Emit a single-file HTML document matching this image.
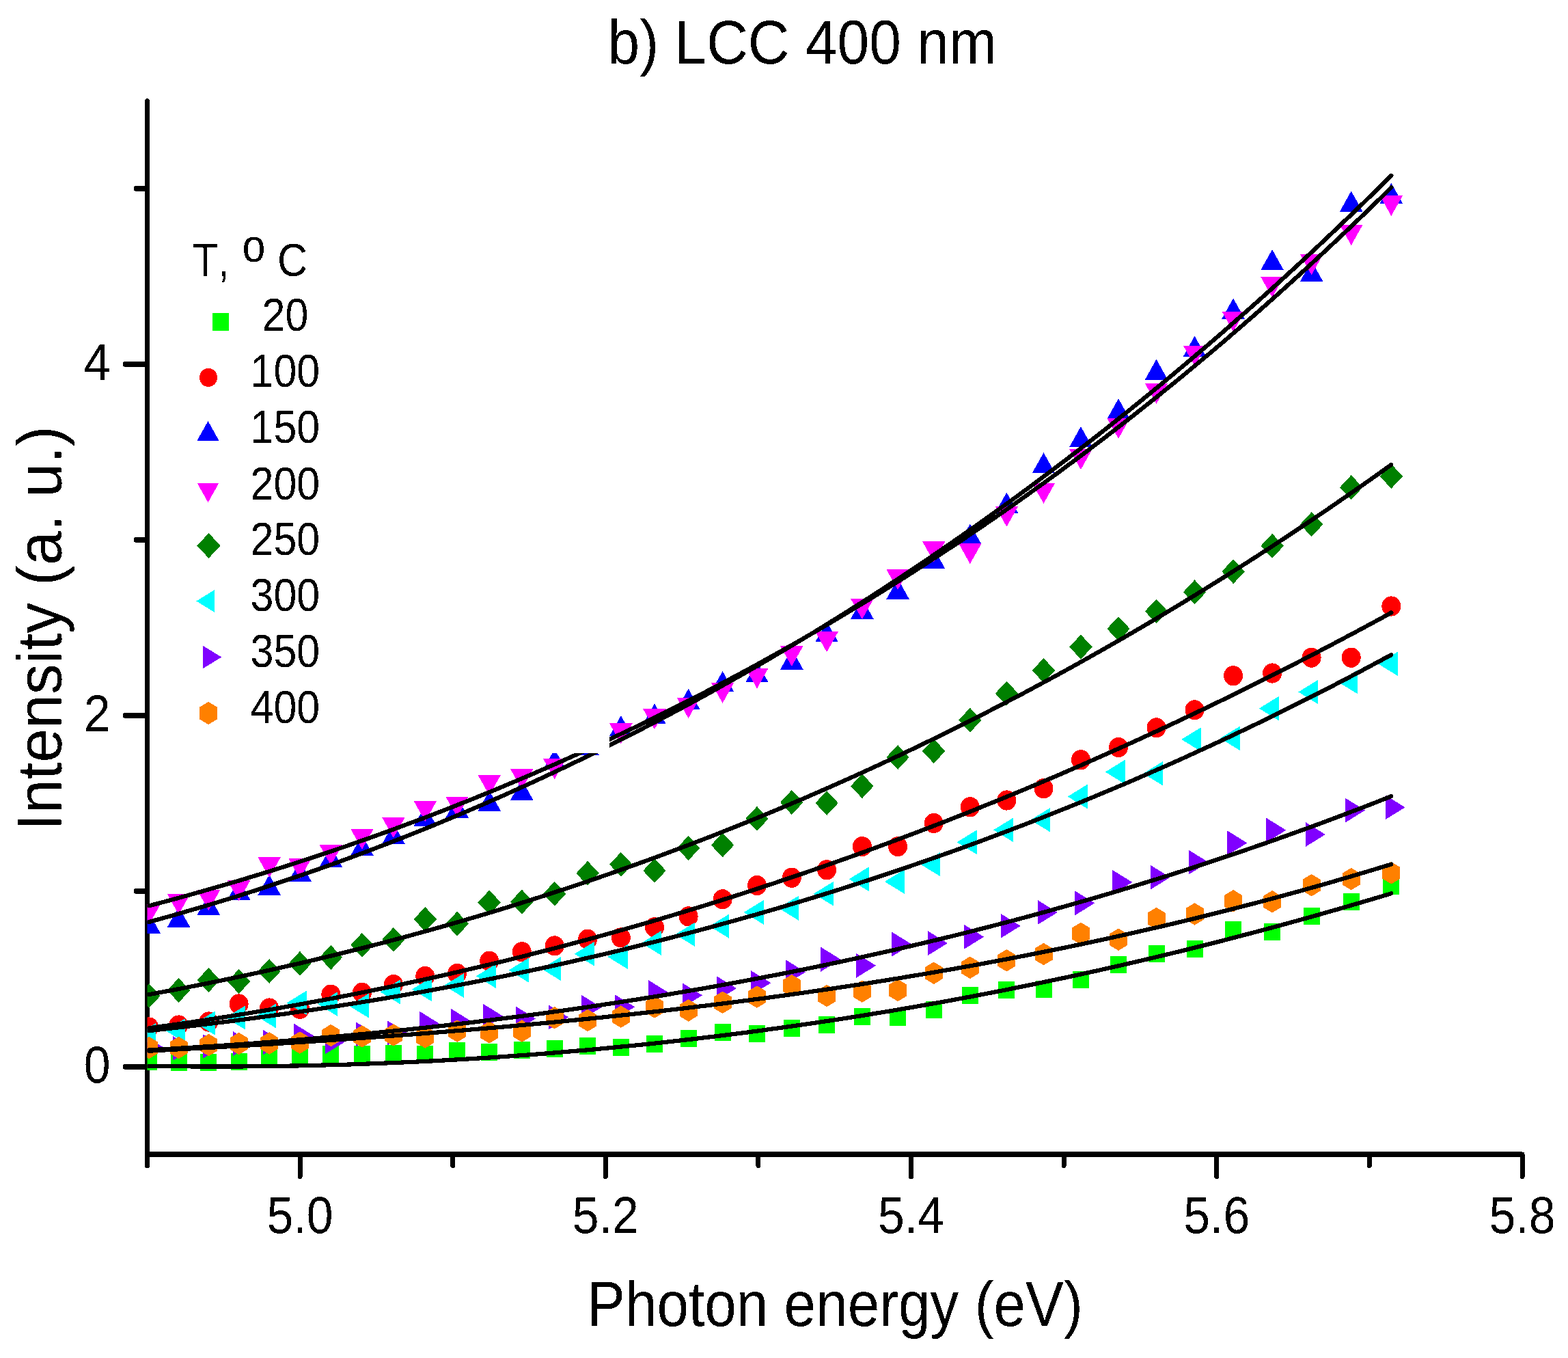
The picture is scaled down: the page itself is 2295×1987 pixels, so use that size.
<!DOCTYPE html>
<html><head><meta charset="utf-8"><title>b) LCC 400 nm</title>
<style>html,body{margin:0;padding:0;background:#fff;overflow:hidden}svg{display:block}text{font-family:"Liberation Sans",Arial,sans-serif;fill:#000;font-kerning:none}</style></head><body>
<svg width="2295" height="1987" viewBox="0 0 2295 1987" shape-rendering="crispEdges">
<rect x="0" y="0" width="2295" height="1987" fill="#fff"/>
<defs><clipPath id="pc"><rect x="215.5" y="140" width="2015" height="1549"/></clipPath><filter id="crisp" x="0" y="0" width="2295" height="1987" filterUnits="userSpaceOnUse"><feComponentTransfer><feFuncA type="discrete" tableValues="0 1"/></feComponentTransfer></filter></defs>
<g stroke="#000" stroke-width="7" stroke-linecap="round" fill="none">
<path d="M215.5 147.5V1705.5"/>
<path d="M215.5 1689H2228" stroke-linecap="butt" stroke-width="7.7"/>
<path d="M2228 1689V1721.5"/>
<path d="M439 1689V1721.5"/>
<path d="M662.7 1689V1705.5"/>
<path d="M886.3 1689V1721.5"/>
<path d="M1109.9 1689V1705.5"/>
<path d="M1333.5 1689V1721.5"/>
<path d="M1557.1 1689V1705.5"/>
<path d="M1780.8 1689V1721.5"/>
<path d="M2004.4 1689V1705.5"/>
<path d="M215.5 1561H183.5" stroke-width="7.8"/>
<path d="M215.5 1304H199.5" stroke-width="7.8"/>
<path d="M215.5 1047H183.5" stroke-width="7.8"/>
<path d="M215.5 790H199.5" stroke-width="7.8"/>
<path d="M215.5 533H183.5" stroke-width="7.8"/>
<path d="M215.5 276H199.5" stroke-width="7.8"/>
</g>
<g clip-path="url(#pc)">
<g fill="#00ff00"><rect x="206.1" y="1540.5" width="24" height="25"/><rect x="249.5" y="1541.5" width="24" height="25"/><rect x="293.4" y="1541.5" width="24" height="25"/><rect x="337.6" y="1540.5" width="24" height="25"/><rect x="382.1" y="1532.5" width="24" height="25"/><rect x="427" y="1531.7" width="24" height="25"/><rect x="472.3" y="1530.3" width="24" height="25"/><rect x="517.9" y="1529.6" width="24" height="25"/><rect x="563.9" y="1528.5" width="24" height="25"/><rect x="610.3" y="1529.5" width="24" height="25"/><rect x="657.1" y="1525.2" width="24" height="25"/><rect x="704.2" y="1526.9" width="24" height="25"/><rect x="751.8" y="1524.2" width="24" height="25"/><rect x="799.7" y="1521.5" width="24" height="25"/><rect x="848.1" y="1518.3" width="24" height="25"/><rect x="896.8" y="1519.6" width="24" height="25"/><rect x="946" y="1515.1" width="24" height="25"/><rect x="995.6" y="1507.4" width="24" height="25"/><rect x="1045.6" y="1497.5" width="24" height="25"/><rect x="1096" y="1499.5" width="24" height="25"/><rect x="1146.8" y="1491.7" width="24" height="25"/><rect x="1198.1" y="1487.2" width="24" height="25"/><rect x="1249.9" y="1475.2" width="24" height="25"/><rect x="1302.1" y="1476" width="24" height="25"/><rect x="1354.7" y="1464.5" width="24" height="25"/><rect x="1407.8" y="1444.2" width="24" height="25"/><rect x="1461.4" y="1436.3" width="24" height="25"/><rect x="1515.5" y="1434.5" width="24" height="25"/><rect x="1570" y="1420.5" width="24" height="25"/><rect x="1625" y="1399.4" width="24" height="25"/><rect x="1680.5" y="1383.3" width="24" height="25"/><rect x="1736.5" y="1376.3" width="24" height="25"/><rect x="1793.1" y="1348.3" width="24" height="25"/><rect x="1850.1" y="1350.9" width="24" height="25"/><rect x="1907.6" y="1328" width="24" height="25"/><rect x="1965.7" y="1307.2" width="24" height="25"/><rect x="2024.3" y="1283.5" width="24" height="25"/></g>
<g fill="#ff0000"><ellipse cx="218.1" cy="1503" rx="14" ry="14.6"/><ellipse cx="261.5" cy="1500" rx="14" ry="14.6"/><ellipse cx="305.4" cy="1495" rx="14" ry="14.6"/><ellipse cx="349.6" cy="1469" rx="14" ry="14.6"/><ellipse cx="394.1" cy="1475" rx="14" ry="14.6"/><ellipse cx="439" cy="1476.2" rx="14" ry="14.6"/><ellipse cx="484.3" cy="1455.1" rx="14" ry="14.6"/><ellipse cx="529.9" cy="1452.3" rx="14" ry="14.6"/><ellipse cx="575.9" cy="1440.5" rx="14" ry="14.6"/><ellipse cx="622.3" cy="1428.5" rx="14" ry="14.6"/><ellipse cx="669.1" cy="1424.4" rx="14" ry="14.6"/><ellipse cx="716.2" cy="1406.2" rx="14" ry="14.6"/><ellipse cx="763.8" cy="1392.7" rx="14" ry="14.6"/><ellipse cx="811.7" cy="1383.9" rx="14" ry="14.6"/><ellipse cx="860.1" cy="1374.2" rx="14" ry="14.6"/><ellipse cx="908.8" cy="1371.9" rx="14" ry="14.6"/><ellipse cx="958" cy="1356.8" rx="14" ry="14.6"/><ellipse cx="1007.6" cy="1340.9" rx="14" ry="14.6"/><ellipse cx="1057.6" cy="1315.8" rx="14" ry="14.6"/><ellipse cx="1108" cy="1295.5" rx="14" ry="14.6"/><ellipse cx="1158.8" cy="1284.2" rx="14" ry="14.6"/><ellipse cx="1210.1" cy="1272.8" rx="14" ry="14.6"/><ellipse cx="1261.9" cy="1238.6" rx="14" ry="14.6"/><ellipse cx="1314.1" cy="1238.6" rx="14" ry="14.6"/><ellipse cx="1366.7" cy="1204.5" rx="14" ry="14.6"/><ellipse cx="1419.8" cy="1180.8" rx="14" ry="14.6"/><ellipse cx="1473.4" cy="1171" rx="14" ry="14.6"/><ellipse cx="1527.5" cy="1153.6" rx="14" ry="14.6"/><ellipse cx="1582" cy="1111.8" rx="14" ry="14.6"/><ellipse cx="1637" cy="1093.5" rx="14" ry="14.6"/><ellipse cx="1692.5" cy="1064.8" rx="14" ry="14.6"/><ellipse cx="1748.5" cy="1038.8" rx="14" ry="14.6"/><ellipse cx="1805.1" cy="988.8" rx="14" ry="14.6"/><ellipse cx="1862.1" cy="985" rx="14" ry="14.6"/><ellipse cx="1919.6" cy="962.2" rx="14" ry="14.6"/><ellipse cx="1977.7" cy="962.2" rx="14" ry="14.6"/><ellipse cx="2036.3" cy="887" rx="14" ry="14.6"/></g>
<g fill="#0000ff"><path d="M218.1 1335.5L234.8 1365.5H201.3Z"/><path d="M261.5 1326.7L278.3 1356.7H244.8Z"/><path d="M305.4 1308.6L322.1 1338.6H288.6Z"/><path d="M349.6 1286.6L366.3 1316.6H332.8Z"/><path d="M394.1 1279.7L410.9 1309.7H377.4Z"/><path d="M439 1259.6L455.8 1289.6H422.3Z"/><path d="M484.3 1238.6L501 1268.6H467.5Z"/><path d="M529.9 1221.8L546.7 1251.8H513.2Z"/><path d="M575.9 1204.8L592.7 1234.8H559.2Z"/><path d="M622.3 1178.7L639.1 1208.7H605.6Z"/><path d="M669.1 1166.5L685.8 1196.5H652.3Z"/><path d="M716.2 1156.7L733 1186.7H699.5Z"/><path d="M763.8 1140.7L780.5 1170.7H747Z"/><path d="M811.7 1096L828.5 1126H795Z"/><path d="M860.1 1075L876.8 1105H843.3Z"/><path d="M908.8 1047L925.6 1077H892.1Z"/><path d="M958 1029.3L974.7 1059.3H941.2Z"/><path d="M1007.6 1007.7L1024.3 1037.7H990.8Z"/><path d="M1057.6 982L1074.3 1012H1040.8Z"/><path d="M1108 968.3L1124.7 998.3H1091.2Z"/><path d="M1158.8 949.5L1175.6 979.5H1142.1Z"/><path d="M1210.1 909.3L1226.9 939.3H1193.4Z"/><path d="M1261.9 875.5L1278.6 905.5H1245.1Z"/><path d="M1314.1 846.7L1330.8 876.7H1297.3Z"/><path d="M1366.7 802.3L1383.5 832.3H1350Z"/><path d="M1419.8 766.4L1436.6 796.4H1403.1Z"/><path d="M1473.4 720.5L1490.2 750.5H1456.7Z"/><path d="M1527.5 662.3L1544.2 692.3H1510.7Z"/><path d="M1582 624L1598.7 654H1565.2Z"/><path d="M1637 583.2L1653.8 613.2H1620.3Z"/><path d="M1692.5 525.7L1709.3 555.7H1675.8Z"/><path d="M1748.5 491.6L1765.3 521.6H1731.8Z"/><path d="M1805.1 436.5L1821.8 466.5H1788.3Z"/><path d="M1862.1 365L1878.8 395H1845.3Z"/><path d="M1919.6 381.7L1936.4 411.7H1902.9Z"/><path d="M1977.7 279.5L1994.5 309.5H1961Z"/><path d="M2036.3 267.7L2053.1 297.7H2019.6Z"/></g>
<g fill="#ff00ff"><path d="M201.3 1323H234.8L218.1 1353Z"/><path d="M244.8 1308.1H278.3L261.5 1338.1Z"/><path d="M288.6 1302.3H322.1L305.4 1332.3Z"/><path d="M332.8 1288.2H366.3L349.6 1318.2Z"/><path d="M377.4 1254.2H410.9L394.1 1284.2Z"/><path d="M422.3 1256H455.8L439 1286Z"/><path d="M467.5 1236.1H501L484.3 1266.1Z"/><path d="M513.2 1212.9H546.7L529.9 1242.9Z"/><path d="M559.2 1196H592.7L575.9 1226Z"/><path d="M605.6 1172H639.1L622.3 1202Z"/><path d="M652.3 1165.7H685.8L669.1 1195.7Z"/><path d="M699.5 1133.9H733L716.2 1163.9Z"/><path d="M747 1125.2H780.5L763.8 1155.2Z"/><path d="M795 1110.1H828.5L811.7 1140.1Z"/><path d="M843.3 1070H876.8L860.1 1100Z"/><path d="M892.1 1058.4H925.6L908.8 1088.4Z"/><path d="M941.2 1037.2H974.7L958 1067.2Z"/><path d="M990.8 1021H1024.3L1007.6 1051Z"/><path d="M1040.8 998.8H1074.3L1057.6 1028.8Z"/><path d="M1091.2 977.5H1124.7L1108 1007.5Z"/><path d="M1142.1 945H1175.6L1158.8 975Z"/><path d="M1193.4 924.2H1226.9L1210.1 954.2Z"/><path d="M1245.1 876.2H1278.6L1261.9 906.2Z"/><path d="M1297.3 833H1330.8L1314.1 863Z"/><path d="M1350 792H1383.5L1366.7 822Z"/><path d="M1403.1 795.1H1436.6L1419.8 825.1Z"/><path d="M1456.7 740.7H1490.2L1473.4 770.7Z"/><path d="M1510.7 706.8H1544.2L1527.5 736.8Z"/><path d="M1565.2 657.2H1598.7L1582 687.2Z"/><path d="M1620.3 611.8H1653.8L1637 641.8Z"/><path d="M1675.8 561H1709.3L1692.5 591Z"/><path d="M1731.8 505.6H1765.3L1748.5 535.6Z"/><path d="M1788.3 455.5H1821.8L1805.1 485.5Z"/><path d="M1845.3 405.3H1878.8L1862.1 435.3Z"/><path d="M1902.9 372.3H1936.4L1919.6 402.3Z"/><path d="M1961 329H1994.5L1977.7 359Z"/><path d="M2019.6 286H2053.1L2036.3 316Z"/></g>
<g fill="#008000"><path d="M218.1 1439L234.8 1457L218.1 1475L201.3 1457Z"/><path d="M261.5 1431L278.3 1449L261.5 1467L244.8 1449Z"/><path d="M305.4 1416L322.1 1434L305.4 1452L288.6 1434Z"/><path d="M349.6 1418L366.3 1436L349.6 1454L332.8 1436Z"/><path d="M394.1 1403L410.9 1421L394.1 1439L377.4 1421Z"/><path d="M439 1391.9L455.8 1409.9L439 1427.9L422.3 1409.9Z"/><path d="M484.3 1382.9L501 1400.9L484.3 1418.9L467.5 1400.9Z"/><path d="M529.9 1364.9L546.7 1382.9L529.9 1400.9L513.2 1382.9Z"/><path d="M575.9 1356.9L592.7 1374.9L575.9 1392.9L559.2 1374.9Z"/><path d="M622.3 1327L639.1 1345L622.3 1363L605.6 1345Z"/><path d="M669.1 1333.7L685.8 1351.7L669.1 1369.7L652.3 1351.7Z"/><path d="M716.2 1302.5L733 1320.5L716.2 1338.5L699.5 1320.5Z"/><path d="M763.8 1301.6L780.5 1319.6L763.8 1337.6L747 1319.6Z"/><path d="M811.7 1289.7L828.5 1307.7L811.7 1325.7L795 1307.7Z"/><path d="M860.1 1259.8L876.8 1277.8L860.1 1295.8L843.3 1277.8Z"/><path d="M908.8 1246.8L925.6 1264.8L908.8 1282.8L892.1 1264.8Z"/><path d="M958 1256L974.7 1274L958 1292L941.2 1274Z"/><path d="M1007.6 1222.9L1024.3 1240.9L1007.6 1258.9L990.8 1240.9Z"/><path d="M1057.6 1218.5L1074.3 1236.5L1057.6 1254.5L1040.8 1236.5Z"/><path d="M1108 1179.9L1124.7 1197.9L1108 1215.9L1091.2 1197.9Z"/><path d="M1158.8 1156L1175.6 1174L1158.8 1192L1142.1 1174Z"/><path d="M1210.1 1157L1226.9 1175L1210.1 1193L1193.4 1175Z"/><path d="M1261.9 1132.2L1278.6 1150.2L1261.9 1168.2L1245.1 1150.2Z"/><path d="M1314.1 1090L1330.8 1108L1314.1 1126L1297.3 1108Z"/><path d="M1366.7 1081L1383.5 1099L1366.7 1117L1350 1099Z"/><path d="M1419.8 1035.7L1436.6 1053.7L1419.8 1071.7L1403.1 1053.7Z"/><path d="M1473.4 996.6L1490.2 1014.6L1473.4 1032.6L1456.7 1014.6Z"/><path d="M1527.5 963L1544.2 981L1527.5 999L1510.7 981Z"/><path d="M1582 928.6L1598.7 946.6L1582 964.6L1565.2 946.6Z"/><path d="M1637 902L1653.8 920L1637 938L1620.3 920Z"/><path d="M1692.5 876.5L1709.3 894.5L1692.5 912.5L1675.8 894.5Z"/><path d="M1748.5 848.4L1765.3 866.4L1748.5 884.4L1731.8 866.4Z"/><path d="M1805.1 818.2L1821.8 836.2L1805.1 854.2L1788.3 836.2Z"/><path d="M1862.1 780.8L1878.8 798.8L1862.1 816.8L1845.3 798.8Z"/><path d="M1919.6 749.3L1936.4 767.3L1919.6 785.3L1902.9 767.3Z"/><path d="M1977.7 695.2L1994.5 713.2L1977.7 731.2L1961 713.2Z"/><path d="M2036.3 678.9L2053.1 696.9L2036.3 714.9L2019.6 696.9Z"/></g>
<g fill="#00ffff"><path d="M198.8 1515L227.8 1497.2V1532.8Z"/><path d="M242.2 1508L271.2 1490.2V1525.8Z"/><path d="M286.1 1497L315.1 1479.2V1514.8Z"/><path d="M330.3 1489L359.3 1471.2V1506.8Z"/><path d="M374.8 1486.5L403.8 1468.7V1504.3Z"/><path d="M419.7 1467.4L448.7 1449.6V1485.2Z"/><path d="M465 1469.1L494 1451.3V1486.9Z"/><path d="M510.6 1471.6L539.6 1453.8V1489.4Z"/><path d="M556.6 1451.4L585.6 1433.6V1469.2Z"/><path d="M603 1447.5L632 1429.7V1465.3Z"/><path d="M649.8 1442L678.8 1424.2V1459.8Z"/><path d="M696.9 1428.2L725.9 1410.4V1446Z"/><path d="M744.5 1419.6L773.5 1401.8V1437.4Z"/><path d="M792.4 1417.5L821.4 1399.7V1435.3Z"/><path d="M840.8 1395.7L869.8 1377.9V1413.5Z"/><path d="M889.5 1400L918.5 1382.2V1417.8Z"/><path d="M938.7 1379.9L967.7 1362.1V1397.7Z"/><path d="M988.3 1367.3L1017.3 1349.5V1385.1Z"/><path d="M1038.3 1355.2L1067.3 1337.4V1373Z"/><path d="M1088.7 1334.9L1117.7 1317.1V1352.7Z"/><path d="M1139.5 1328.7L1168.5 1310.9V1346.5Z"/><path d="M1190.8 1307.7L1219.8 1289.9V1325.5Z"/><path d="M1242.6 1286.3L1271.6 1268.5V1304.1Z"/><path d="M1294.8 1290L1323.8 1272.2V1307.8Z"/><path d="M1347.4 1264.7L1376.4 1246.9V1282.5Z"/><path d="M1400.5 1232.3L1429.5 1214.5V1250.1Z"/><path d="M1454.1 1214.3L1483.1 1196.5V1232.1Z"/><path d="M1508.2 1199.8L1537.2 1182V1217.6Z"/><path d="M1562.7 1165.5L1591.7 1147.7V1183.3Z"/><path d="M1617.7 1129.5L1646.7 1111.7V1147.3Z"/><path d="M1673.2 1131.8L1702.2 1114V1149.6Z"/><path d="M1729.2 1081.9L1758.2 1064.1V1099.7Z"/><path d="M1785.8 1080.3L1814.8 1062.5V1098.1Z"/><path d="M1842.8 1036.6L1871.8 1018.8V1054.4Z"/><path d="M1900.3 1012.5L1929.3 994.7V1030.3Z"/><path d="M1958.4 997.8L1987.4 980V1015.6Z"/><path d="M2017 971.3L2046 953.5V989.1Z"/></g>
<g fill="#8000ff"><path d="M209.3 1514L238.4 1532L209.3 1550Z"/><path d="M252.7 1516L281.8 1534L252.7 1552Z"/><path d="M296.6 1513L325.7 1531L296.6 1549Z"/><path d="M340.8 1509L369.9 1527L340.8 1545Z"/><path d="M385.3 1507L414.4 1525L385.3 1543Z"/><path d="M430.2 1497.6L459.3 1515.6L430.2 1533.6Z"/><path d="M475.5 1506.6L504.6 1524.6L475.5 1542.6Z"/><path d="M521.1 1495.5L550.2 1513.5L521.1 1531.5Z"/><path d="M567.1 1493.4L596.2 1511.4L567.1 1529.4Z"/><path d="M613.5 1479.4L642.6 1497.4L613.5 1515.4Z"/><path d="M660.3 1476L689.4 1494L660.3 1512Z"/><path d="M707.4 1469L736.5 1487L707.4 1505Z"/><path d="M755 1472.5L784.1 1490.5L755 1508.5Z"/><path d="M802.9 1470.4L832 1488.4L802.9 1506.4Z"/><path d="M851.3 1456L880.4 1474L851.3 1492Z"/><path d="M900 1455.3L929.1 1473.3L900 1491.3Z"/><path d="M949.2 1434.2L978.3 1452.2L949.2 1470.2Z"/><path d="M998.8 1438.3L1027.9 1456.3L998.8 1474.3Z"/><path d="M1048.8 1428.2L1077.9 1446.2L1048.8 1464.2Z"/><path d="M1099.2 1420.2L1128.3 1438.2L1099.2 1456.2Z"/><path d="M1150 1404.3L1179.1 1422.3L1150 1440.3Z"/><path d="M1201.3 1385.7L1230.4 1403.7L1201.3 1421.7Z"/><path d="M1253.1 1394.8L1282.2 1412.8L1253.1 1430.8Z"/><path d="M1305.3 1363.6L1334.4 1381.6L1305.3 1399.6Z"/><path d="M1357.9 1362.1L1387 1380.1L1357.9 1398.1Z"/><path d="M1411 1352.8L1440.1 1370.8L1411 1388.8Z"/><path d="M1464.6 1336.8L1493.7 1354.8L1464.6 1372.8Z"/><path d="M1518.7 1317L1547.8 1335L1518.7 1353Z"/><path d="M1573.2 1303.4L1602.3 1321.4L1573.2 1339.4Z"/><path d="M1628.2 1272.9L1657.3 1290.9L1628.2 1308.9Z"/><path d="M1683.7 1265.7L1712.8 1283.7L1683.7 1301.7Z"/><path d="M1739.7 1243.6L1768.8 1261.6L1739.7 1279.6Z"/><path d="M1796.3 1215.4L1825.4 1233.4L1796.3 1251.4Z"/><path d="M1853.3 1196.7L1882.4 1214.7L1853.3 1232.7Z"/><path d="M1910.8 1203L1939.9 1221L1910.8 1239Z"/><path d="M1968.9 1167.6L1998 1185.6L1968.9 1203.6Z"/><path d="M2027.5 1163.3L2056.6 1181.3L2027.5 1199.3Z"/></g>
<g fill="#ff8000"><path d="M218.1 1516.8L231.1 1524.6V1541.4L218.1 1549.2L205.1 1541.4V1524.6Z"/><path d="M261.5 1516.8L274.5 1524.6V1541.4L261.5 1549.2L248.5 1541.4V1524.6Z"/><path d="M305.4 1512.8L318.4 1520.6V1537.4L305.4 1545.2L292.4 1537.4V1520.6Z"/><path d="M349.6 1510.8L362.6 1518.6V1535.4L349.6 1543.2L336.6 1535.4V1518.6Z"/><path d="M394.1 1510.2L407.1 1518.1V1534.9L394.1 1542.8L381.1 1534.9V1518.1Z"/><path d="M439 1509.3L452 1517.2V1534L439 1541.8L426 1534V1517.2Z"/><path d="M484.3 1498.8L497.3 1506.7V1523.5L484.3 1531.3L471.3 1523.5V1506.7Z"/><path d="M529.9 1500.2L542.9 1508V1524.8L529.9 1532.7L516.9 1524.8V1508Z"/><path d="M575.9 1498.2L588.9 1506V1522.8L575.9 1530.7L562.9 1522.8V1506Z"/><path d="M622.3 1501.2L635.3 1509V1525.8L622.3 1533.7L609.3 1525.8V1509Z"/><path d="M669.1 1492.3L682.1 1500.2V1517L669.1 1524.8L656.1 1517V1500.2Z"/><path d="M716.2 1494.2L729.2 1502V1518.8L716.2 1526.7L703.2 1518.8V1502Z"/><path d="M763.8 1492.3L776.8 1500.2V1517L763.8 1524.8L750.8 1517V1500.2Z"/><path d="M811.7 1473L824.7 1480.8V1497.6L811.7 1505.5L798.7 1497.6V1480.8Z"/><path d="M860.1 1476.8L873.1 1484.6V1501.4L860.1 1509.2L847.1 1501.4V1484.6Z"/><path d="M908.8 1471.3L921.8 1479.2V1496L908.8 1503.8L895.8 1496V1479.2Z"/><path d="M958 1457.2L971 1465V1481.8L958 1489.7L945 1481.8V1465Z"/><path d="M1007.6 1462.2L1020.6 1470V1486.8L1007.6 1494.7L994.6 1486.8V1470Z"/><path d="M1057.6 1450.5L1070.6 1458.4V1475.2L1057.6 1483L1044.6 1475.2V1458.4Z"/><path d="M1108 1442.3L1121 1450.2V1467L1108 1474.8L1095 1467V1450.2Z"/><path d="M1158.8 1426L1171.8 1433.8V1450.6L1158.8 1458.5L1145.8 1450.6V1433.8Z"/><path d="M1210.1 1440.8L1223.1 1448.6V1465.4L1210.1 1473.2L1197.1 1465.4V1448.6Z"/><path d="M1261.9 1434.3L1274.9 1442.2V1459L1261.9 1466.8L1248.9 1459V1442.2Z"/><path d="M1314.1 1432.8L1327.1 1440.6V1457.4L1314.1 1465.2L1301.1 1457.4V1440.6Z"/><path d="M1366.7 1407.5L1379.7 1415.4V1432.2L1366.7 1440L1353.7 1432.2V1415.4Z"/><path d="M1419.8 1399.5L1432.8 1407.4V1424.2L1419.8 1432L1406.8 1424.2V1407.4Z"/><path d="M1473.4 1389L1486.4 1396.9V1413.7L1473.4 1421.5L1460.4 1413.7V1396.9Z"/><path d="M1527.5 1379.8L1540.5 1387.7V1404.5L1527.5 1412.3L1514.5 1404.5V1387.7Z"/><path d="M1582 1349.8L1595 1357.6V1374.4L1582 1382.2L1569 1374.4V1357.6Z"/><path d="M1637 1358.5L1650 1366.3V1383.1L1637 1391L1624 1383.1V1366.3Z"/><path d="M1692.5 1327.8L1705.5 1335.6V1352.4L1692.5 1360.2L1679.5 1352.4V1335.6Z"/><path d="M1748.5 1321.2L1761.5 1329V1345.8L1748.5 1353.7L1735.5 1345.8V1329Z"/><path d="M1805.1 1302L1818.1 1309.9V1326.7L1805.1 1334.5L1792.1 1326.7V1309.9Z"/><path d="M1862.1 1303L1875.1 1310.9V1327.7L1862.1 1335.5L1849.1 1327.7V1310.9Z"/><path d="M1919.6 1279L1932.6 1286.8V1303.6L1919.6 1311.5L1906.6 1303.6V1286.8Z"/><path d="M1977.7 1269.8L1990.7 1277.7V1294.5L1977.7 1302.3L1964.7 1294.5V1277.7Z"/><path d="M2036.3 1261L2049.3 1268.8V1285.6L2036.3 1293.5L2023.3 1285.6V1268.8Z"/></g>
<g fill="none" stroke="#000" stroke-width="6.2" stroke-linecap="round" stroke-linejoin="round">
<path d="M218.1 1559.8 L233.3 1560 L248.6 1560.2 L263.9 1560.3 L279.2 1560.4 L294.5 1560.5 L309.7 1560.5 L325 1560.5 L340.3 1560.5 L355.6 1560.4 L370.8 1560.3 L386.1 1560.2 L401.4 1560 L416.7 1559.7 L432 1559.5 L447.2 1559.2 L462.5 1558.8 L477.8 1558.4 L493.1 1558 L508.4 1557.6 L523.6 1557.1 L538.9 1556.5 L554.2 1555.9 L569.5 1555.3 L584.8 1554.7 L600 1554 L615.3 1553.3 L630.6 1552.5 L645.9 1551.7 L661.2 1550.8 L676.4 1550 L691.7 1549 L707 1548.1 L722.3 1547.1 L737.6 1546 L752.8 1544.9 L768.1 1543.8 L783.4 1542.7 L798.7 1541.5 L814 1540.2 L829.2 1538.9 L844.5 1537.6 L859.8 1536.3 L875.1 1534.9 L890.4 1533.4 L905.6 1531.9 L920.9 1530.4 L936.2 1528.9 L951.5 1527.3 L966.8 1525.6 L982 1524 L997.3 1522.2 L1012.6 1520.5 L1027.9 1518.7 L1043.2 1516.8 L1058.4 1515 L1073.7 1513 L1089 1511.1 L1104.3 1509.1 L1119.6 1507 L1134.8 1504.9 L1150.1 1502.8 L1165.4 1500.6 L1180.7 1498.4 L1196 1496.2 L1211.2 1493.9 L1226.5 1491.6 L1241.8 1489.2 L1257.1 1486.8 L1272.4 1484.3 L1287.6 1481.8 L1302.9 1479.3 L1318.2 1476.7 L1333.5 1474.1 L1348.8 1471.4 L1364 1468.7 L1379.3 1466 L1394.6 1463.2 L1409.9 1460.3 L1425.2 1457.5 L1440.4 1454.5 L1455.7 1451.6 L1471 1448.6 L1486.3 1445.5 L1501.6 1442.4 L1516.8 1439.3 L1532.1 1436.1 L1547.4 1432.9 L1562.7 1429.7 L1578 1426.4 L1593.2 1423 L1608.5 1419.7 L1623.8 1416.2 L1639.1 1412.8 L1654.4 1409.2 L1669.6 1405.7 L1684.9 1402.1 L1700.2 1398.4 L1715.5 1394.8 L1730.8 1391 L1746 1387.3 L1761.3 1383.4 L1776.6 1379.6 L1791.9 1375.7 L1807.1 1371.7 L1822.4 1367.7 L1837.7 1363.7 L1853 1359.6 L1868.3 1355.5 L1883.5 1351.3 L1898.8 1347.1 L1914.1 1342.9 L1929.4 1338.6 L1944.7 1334.2 L1959.9 1329.9 L1975.2 1325.4 L1990.5 1320.9 L2005.8 1316.4 L2021.1 1311.9 L2036.3 1307.3"/>
<path d="M218.1 1504.3 L233.3 1502.2 L248.6 1500.1 L263.9 1497.9 L279.2 1495.7 L294.5 1493.4 L309.7 1491.1 L325 1488.7 L340.3 1486.3 L355.6 1483.8 L370.8 1481.3 L386.1 1478.8 L401.4 1476.2 L416.7 1473.5 L432 1470.8 L447.2 1468 L462.5 1465.2 L477.8 1462.4 L493.1 1459.5 L508.4 1456.5 L523.6 1453.5 L538.9 1450.4 L554.2 1447.3 L569.5 1444.2 L584.8 1441 L600 1437.7 L615.3 1434.4 L630.6 1431.1 L645.9 1427.7 L661.2 1424.2 L676.4 1420.7 L691.7 1417.1 L707 1413.5 L722.3 1409.9 L737.6 1406.2 L752.8 1402.4 L768.1 1398.6 L783.4 1394.7 L798.7 1390.8 L814 1386.9 L829.2 1382.9 L844.5 1378.8 L859.8 1374.7 L875.1 1370.5 L890.4 1366.3 L905.6 1362 L920.9 1357.7 L936.2 1353.3 L951.5 1348.9 L966.8 1344.4 L982 1339.9 L997.3 1335.3 L1012.6 1330.6 L1027.9 1326 L1043.2 1321.2 L1058.4 1316.4 L1073.7 1311.6 L1089 1306.7 L1104.3 1301.7 L1119.6 1296.7 L1134.8 1291.7 L1150.1 1286.5 L1165.4 1281.4 L1180.7 1276.2 L1196 1270.9 L1211.2 1265.6 L1226.5 1260.2 L1241.8 1254.8 L1257.1 1249.3 L1272.4 1243.7 L1287.6 1238.1 L1302.9 1232.5 L1318.2 1226.8 L1333.5 1221 L1348.8 1215.2 L1364 1209.4 L1379.3 1203.5 L1394.6 1197.5 L1409.9 1191.5 L1425.2 1185.4 L1440.4 1179.2 L1455.7 1173.1 L1471 1166.8 L1486.3 1160.5 L1501.6 1154.2 L1516.8 1147.8 L1532.1 1141.3 L1547.4 1134.8 L1562.7 1128.2 L1578 1121.6 L1593.2 1114.9 L1608.5 1108.1 L1623.8 1101.3 L1639.1 1094.5 L1654.4 1087.6 L1669.6 1080.6 L1684.9 1073.6 L1700.2 1066.5 L1715.5 1059.4 L1730.8 1052.2 L1746 1045 L1761.3 1037.7 L1776.6 1030.3 L1791.9 1022.9 L1807.1 1015.4 L1822.4 1007.9 L1837.7 1000.3 L1853 992.7 L1868.3 985 L1883.5 977.2 L1898.8 969.4 L1914.1 961.6 L1929.4 953.6 L1944.7 945.6 L1959.9 937.6 L1975.2 929.5 L1990.5 921.4 L2005.8 913.1 L2021.1 904.9 L2036.3 896.5"/>
<path d="M218.1 1349 L233.3 1344.8 L248.6 1340.6 L263.9 1336.2 L279.2 1331.8 L294.5 1327.4 L309.7 1322.8 L325 1318.2 L340.3 1313.5 L355.6 1308.7 L370.8 1303.8 L386.1 1298.9 L401.4 1293.8 L416.7 1288.7 L432 1283.6 L447.2 1278.3 L462.5 1273 L477.8 1267.6 L493.1 1262.1 L508.4 1256.5 L523.6 1250.9 L538.9 1245.1 L554.2 1239.3 L569.5 1233.5 L584.8 1227.5 L600 1221.5 L615.3 1215.4 L630.6 1209.2 L645.9 1202.9 L661.2 1196.5 L676.4 1190.1 L691.7 1183.6 L707 1177 L722.3 1170.3 L737.6 1163.6 L752.8 1156.7 L768.1 1149.8 L783.4 1142.8 L798.7 1135.7 L814 1128.6 L829.2 1121.3 L844.5 1114 L859.8 1106.6 L875.1 1099.1 L890.4 1091.5 L905.6 1083.9 L920.9 1076.2 L936.2 1068.3 L951.5 1060.4 L966.8 1052.4 L982 1044.4 L997.3 1036.2 L1012.6 1028 L1027.9 1019.6 L1043.2 1011.2 L1058.4 1002.7 L1073.7 994.1 L1089 985.4 L1104.3 976.7 L1119.6 967.8 L1134.8 958.9 L1150.1 949.8 L1165.4 940.7 L1180.7 931.5 L1196 922.2 L1211.2 912.8 L1226.5 903.3 L1241.8 893.8 L1257.1 884.1 L1272.4 874.4 L1287.6 864.5 L1302.9 854.6 L1318.2 844.5 L1333.5 834.4 L1348.8 824.2 L1364 813.9 L1379.3 803.4 L1394.6 792.9 L1409.9 782.3 L1425.2 771.6 L1440.4 760.8 L1455.7 749.9 L1471 738.9 L1486.3 727.8 L1501.6 716.6 L1516.8 705.3 L1532.1 693.9 L1547.4 682.4 L1562.7 670.8 L1578 659.1 L1593.2 647.3 L1608.5 635.4 L1623.8 623.4 L1639.1 611.2 L1654.4 599 L1669.6 586.7 L1684.9 574.2 L1700.2 561.7 L1715.5 549 L1730.8 536.2 L1746 523.4 L1761.3 510.4 L1776.6 497.3 L1791.9 484.1 L1807.1 470.7 L1822.4 457.3 L1837.7 443.8 L1853 430.1 L1868.3 416.3 L1883.5 402.4 L1898.8 388.4 L1914.1 374.2 L1929.4 360 L1944.7 345.6 L1959.9 331.1 L1975.2 316.5 L1990.5 301.8 L2005.8 286.9 L2021.1 271.9 L2036.3 256.8"/>
<path d="M218.1 1325.4 L233.3 1321.4 L248.6 1317.3 L263.9 1313.1 L279.2 1308.9 L294.5 1304.6 L309.7 1300.2 L325 1295.8 L340.3 1291.3 L355.6 1286.8 L370.8 1282.1 L386.1 1277.5 L401.4 1272.7 L416.7 1267.9 L432 1263 L447.2 1258 L462.5 1253 L477.8 1247.9 L493.1 1242.7 L508.4 1237.5 L523.6 1232.1 L538.9 1226.8 L554.2 1221.3 L569.5 1215.8 L584.8 1210.2 L600 1204.5 L615.3 1198.8 L630.6 1193 L645.9 1187.1 L661.2 1181.1 L676.4 1175.1 L691.7 1169 L707 1162.8 L722.3 1156.6 L737.6 1150.2 L752.8 1143.8 L768.1 1137.3 L783.4 1130.8 L798.7 1124.1 L814 1117.4 L829.2 1110.6 L844.5 1103.7 L859.8 1096.8 L875.1 1089.7 L890.4 1082.6 L905.6 1075.4 L920.9 1068.2 L936.2 1060.8 L951.5 1053.4 L966.8 1045.8 L982 1038.2 L997.3 1030.5 L1012.6 1022.7 L1027.9 1014.9 L1043.2 1006.9 L1058.4 998.9 L1073.7 990.8 L1089 982.6 L1104.3 974.3 L1119.6 965.9 L1134.8 957.4 L1150.1 948.8 L1165.4 940.2 L1180.7 931.4 L1196 922.6 L1211.2 913.7 L1226.5 904.7 L1241.8 895.5 L1257.1 886.3 L1272.4 877 L1287.6 867.6 L1302.9 858.1 L1318.2 848.5 L1333.5 838.8 L1348.8 829 L1364 819.1 L1379.3 809.1 L1394.6 799.1 L1409.9 788.9 L1425.2 778.6 L1440.4 768.2 L1455.7 757.7 L1471 747.1 L1486.3 736.4 L1501.6 725.5 L1516.8 714.6 L1532.1 703.6 L1547.4 692.5 L1562.7 681.2 L1578 669.9 L1593.2 658.4 L1608.5 646.8 L1623.8 635.1 L1639.1 623.3 L1654.4 611.4 L1669.6 599.4 L1684.9 587.3 L1700.2 575 L1715.5 562.6 L1730.8 550.2 L1746 537.5 L1761.3 524.8 L1776.6 512 L1791.9 499 L1807.1 485.9 L1822.4 472.7 L1837.7 459.4 L1853 445.9 L1868.3 432.3 L1883.5 418.6 L1898.8 404.8 L1914.1 390.8 L1929.4 376.7 L1944.7 362.5 L1959.9 348.1 L1975.2 333.6 L1990.5 319 L2005.8 304.3 L2021.1 289.4 L2036.3 274.3"/>
<path d="M218.1 1455.1 L233.3 1452.3 L248.6 1449.5 L263.9 1446.6 L279.2 1443.6 L294.5 1440.6 L309.7 1437.5 L325 1434.4 L340.3 1431.2 L355.6 1428 L370.8 1424.7 L386.1 1421.4 L401.4 1418 L416.7 1414.5 L432 1411.1 L447.2 1407.5 L462.5 1403.9 L477.8 1400.2 L493.1 1396.5 L508.4 1392.7 L523.6 1388.9 L538.9 1385 L554.2 1381.1 L569.5 1377.1 L584.8 1373 L600 1368.9 L615.3 1364.7 L630.6 1360.5 L645.9 1356.2 L661.2 1351.8 L676.4 1347.4 L691.7 1342.9 L707 1338.4 L722.3 1333.8 L737.6 1329.1 L752.8 1324.4 L768.1 1319.6 L783.4 1314.8 L798.7 1309.9 L814 1304.9 L829.2 1299.9 L844.5 1294.8 L859.8 1289.7 L875.1 1284.4 L890.4 1279.2 L905.6 1273.8 L920.9 1268.4 L936.2 1262.9 L951.5 1257.4 L966.8 1251.8 L982 1246.1 L997.3 1240.4 L1012.6 1234.6 L1027.9 1228.7 L1043.2 1222.8 L1058.4 1216.8 L1073.7 1210.7 L1089 1204.6 L1104.3 1198.4 L1119.6 1192.1 L1134.8 1185.8 L1150.1 1179.4 L1165.4 1172.9 L1180.7 1166.4 L1196 1159.7 L1211.2 1153.1 L1226.5 1146.3 L1241.8 1139.5 L1257.1 1132.6 L1272.4 1125.6 L1287.6 1118.6 L1302.9 1111.5 L1318.2 1104.3 L1333.5 1097 L1348.8 1089.7 L1364 1082.3 L1379.3 1074.8 L1394.6 1067.3 L1409.9 1059.7 L1425.2 1052 L1440.4 1044.2 L1455.7 1036.3 L1471 1028.4 L1486.3 1020.4 L1501.6 1012.4 L1516.8 1004.2 L1532.1 996 L1547.4 987.7 L1562.7 979.3 L1578 970.9 L1593.2 962.3 L1608.5 953.7 L1623.8 945 L1639.1 936.3 L1654.4 927.4 L1669.6 918.5 L1684.9 909.5 L1700.2 900.4 L1715.5 891.3 L1730.8 882 L1746 872.7 L1761.3 863.3 L1776.6 853.8 L1791.9 844.3 L1807.1 834.6 L1822.4 824.9 L1837.7 815.1 L1853 805.2 L1868.3 795.2 L1883.5 785.2 L1898.8 775 L1914.1 764.8 L1929.4 754.5 L1944.7 744.1 L1959.9 733.6 L1975.2 723 L1990.5 712.4 L2005.8 701.7 L2021.1 690.9 L2036.3 679.9"/>
<path d="M218.1 1508.2 L233.3 1506.5 L248.6 1504.8 L263.9 1503.1 L279.2 1501.3 L294.5 1499.5 L309.7 1497.6 L325 1495.7 L340.3 1493.8 L355.6 1491.8 L370.8 1489.8 L386.1 1487.7 L401.4 1485.6 L416.7 1483.5 L432 1481.3 L447.2 1479.1 L462.5 1476.8 L477.8 1474.5 L493.1 1472.1 L508.4 1469.7 L523.6 1467.3 L538.9 1464.8 L554.2 1462.3 L569.5 1459.7 L584.8 1457.1 L600 1454.4 L615.3 1451.7 L630.6 1448.9 L645.9 1446.1 L661.2 1443.3 L676.4 1440.3 L691.7 1437.4 L707 1434.4 L722.3 1431.4 L737.6 1428.3 L752.8 1425.1 L768.1 1421.9 L783.4 1418.7 L798.7 1415.4 L814 1412.1 L829.2 1408.7 L844.5 1405.2 L859.8 1401.7 L875.1 1398.2 L890.4 1394.6 L905.6 1391 L920.9 1387.3 L936.2 1383.5 L951.5 1379.7 L966.8 1375.9 L982 1372 L997.3 1368 L1012.6 1364 L1027.9 1359.9 L1043.2 1355.8 L1058.4 1351.6 L1073.7 1347.4 L1089 1343.1 L1104.3 1338.8 L1119.6 1334.4 L1134.8 1330 L1150.1 1325.4 L1165.4 1320.9 L1180.7 1316.3 L1196 1311.6 L1211.2 1306.9 L1226.5 1302.1 L1241.8 1297.2 L1257.1 1292.3 L1272.4 1287.3 L1287.6 1282.3 L1302.9 1277.2 L1318.2 1272.1 L1333.5 1266.9 L1348.8 1261.6 L1364 1256.3 L1379.3 1250.9 L1394.6 1245.5 L1409.9 1240 L1425.2 1234.4 L1440.4 1228.8 L1455.7 1223.1 L1471 1217.3 L1486.3 1211.5 L1501.6 1205.7 L1516.8 1199.7 L1532.1 1193.7 L1547.4 1187.6 L1562.7 1181.5 L1578 1175.3 L1593.2 1169.1 L1608.5 1162.7 L1623.8 1156.3 L1639.1 1149.9 L1654.4 1143.4 L1669.6 1136.8 L1684.9 1130.1 L1700.2 1123.4 L1715.5 1116.6 L1730.8 1109.8 L1746 1102.8 L1761.3 1095.8 L1776.6 1088.8 L1791.9 1081.7 L1807.1 1074.5 L1822.4 1067.2 L1837.7 1059.9 L1853 1052.5 L1868.3 1045 L1883.5 1037.4 L1898.8 1029.8 L1914.1 1022.1 L1929.4 1014.4 L1944.7 1006.6 L1959.9 998.7 L1975.2 990.7 L1990.5 982.7 L2005.8 974.5 L2021.1 966.3 L2036.3 958.1"/>
<path d="M218.1 1536.4 L233.3 1535.5 L248.6 1534.7 L263.9 1533.7 L279.2 1532.8 L294.5 1531.8 L309.7 1530.8 L325 1529.8 L340.3 1528.8 L355.6 1527.7 L370.8 1526.6 L386.1 1525.4 L401.4 1524.2 L416.7 1523 L432 1521.8 L447.2 1520.5 L462.5 1519.2 L477.8 1517.9 L493.1 1516.5 L508.4 1515.1 L523.6 1513.7 L538.9 1512.2 L554.2 1510.7 L569.5 1509.2 L584.8 1507.6 L600 1506.1 L615.3 1504.4 L630.6 1502.8 L645.9 1501.1 L661.2 1499.3 L676.4 1497.6 L691.7 1495.8 L707 1493.9 L722.3 1492 L737.6 1490.1 L752.8 1488.2 L768.1 1486.2 L783.4 1484.2 L798.7 1482.1 L814 1480 L829.2 1477.9 L844.5 1475.7 L859.8 1473.5 L875.1 1471.2 L890.4 1468.9 L905.6 1466.6 L920.9 1464.2 L936.2 1461.8 L951.5 1459.3 L966.8 1456.9 L982 1454.3 L997.3 1451.7 L1012.6 1449.1 L1027.9 1446.5 L1043.2 1443.8 L1058.4 1441 L1073.7 1438.2 L1089 1435.4 L1104.3 1432.5 L1119.6 1429.6 L1134.8 1426.7 L1150.1 1423.7 L1165.4 1420.6 L1180.7 1417.5 L1196 1414.4 L1211.2 1411.2 L1226.5 1408 L1241.8 1404.7 L1257.1 1401.4 L1272.4 1398 L1287.6 1394.6 L1302.9 1391.2 L1318.2 1387.7 L1333.5 1384.1 L1348.8 1380.5 L1364 1376.9 L1379.3 1373.2 L1394.6 1369.5 L1409.9 1365.7 L1425.2 1361.8 L1440.4 1357.9 L1455.7 1354 L1471 1350 L1486.3 1346 L1501.6 1341.9 L1516.8 1337.8 L1532.1 1333.6 L1547.4 1329.3 L1562.7 1325 L1578 1320.7 L1593.2 1316.3 L1608.5 1311.9 L1623.8 1307.4 L1639.1 1302.8 L1654.4 1298.2 L1669.6 1293.5 L1684.9 1288.8 L1700.2 1284.1 L1715.5 1279.3 L1730.8 1274.4 L1746 1269.5 L1761.3 1264.5 L1776.6 1259.4 L1791.9 1254.3 L1807.1 1249.2 L1822.4 1244 L1837.7 1238.7 L1853 1233.4 L1868.3 1228 L1883.5 1222.6 L1898.8 1217.1 L1914.1 1211.6 L1929.4 1206 L1944.7 1200.3 L1959.9 1194.6 L1975.2 1188.8 L1990.5 1183 L2005.8 1177.1 L2021.1 1171.1 L2036.3 1165.1"/>
<path d="M218.1 1537.7 L233.3 1536.9 L248.6 1536 L263.9 1535.2 L279.2 1534.4 L294.5 1533.5 L309.7 1532.7 L325 1531.8 L340.3 1530.9 L355.6 1530 L370.8 1529.1 L386.1 1528.2 L401.4 1527.3 L416.7 1526.3 L432 1525.3 L447.2 1524.4 L462.5 1523.4 L477.8 1522.4 L493.1 1521.3 L508.4 1520.3 L523.6 1519.2 L538.9 1518.1 L554.2 1517.1 L569.5 1515.9 L584.8 1514.8 L600 1513.7 L615.3 1512.5 L630.6 1511.3 L645.9 1510.1 L661.2 1508.8 L676.4 1507.6 L691.7 1506.3 L707 1505 L722.3 1503.7 L737.6 1502.4 L752.8 1501 L768.1 1499.6 L783.4 1498.2 L798.7 1496.8 L814 1495.3 L829.2 1493.8 L844.5 1492.3 L859.8 1490.8 L875.1 1489.2 L890.4 1487.6 L905.6 1486 L920.9 1484.4 L936.2 1482.7 L951.5 1481 L966.8 1479.3 L982 1477.5 L997.3 1475.8 L1012.6 1473.9 L1027.9 1472.1 L1043.2 1470.2 L1058.4 1468.3 L1073.7 1466.4 L1089 1464.4 L1104.3 1462.4 L1119.6 1460.4 L1134.8 1458.3 L1150.1 1456.2 L1165.4 1454.1 L1180.7 1451.9 L1196 1449.7 L1211.2 1447.5 L1226.5 1445.2 L1241.8 1442.9 L1257.1 1440.6 L1272.4 1438.2 L1287.6 1435.8 L1302.9 1433.4 L1318.2 1430.9 L1333.5 1428.3 L1348.8 1425.8 L1364 1423.2 L1379.3 1420.5 L1394.6 1417.9 L1409.9 1415.1 L1425.2 1412.4 L1440.4 1409.6 L1455.7 1406.7 L1471 1403.9 L1486.3 1400.9 L1501.6 1398 L1516.8 1395 L1532.1 1391.9 L1547.4 1388.8 L1562.7 1385.7 L1578 1382.5 L1593.2 1379.3 L1608.5 1376 L1623.8 1372.7 L1639.1 1369.3 L1654.4 1365.9 L1669.6 1362.4 L1684.9 1358.9 L1700.2 1355.4 L1715.5 1351.8 L1730.8 1348.2 L1746 1344.5 L1761.3 1340.7 L1776.6 1336.9 L1791.9 1333.1 L1807.1 1329.2 L1822.4 1325.2 L1837.7 1321.3 L1853 1317.2 L1868.3 1313.1 L1883.5 1309 L1898.8 1304.8 L1914.1 1300.5 L1929.4 1296.2 L1944.7 1291.9 L1959.9 1287.4 L1975.2 1283 L1990.5 1278.4 L2005.8 1273.9 L2021.1 1269.2 L2036.3 1264.6"/>
</g></g>
<rect x="225" y="300" width="667" height="802" fill="#fff"/>
<g filter="url(#crisp)">
<text transform="translate(439 1803.5) scale(1 1.094)" font-size="69.8" text-anchor="middle">5.0</text>
<text transform="translate(886.3 1803.5) scale(1 1.094)" font-size="69.8" text-anchor="middle">5.2</text>
<text transform="translate(1333.5 1803.5) scale(1 1.094)" font-size="69.8" text-anchor="middle">5.4</text>
<text transform="translate(1780.8 1803.5) scale(1 1.094)" font-size="69.8" text-anchor="middle">5.6</text>
<text transform="translate(2228 1803.5) scale(1 1.094)" font-size="69.8" text-anchor="middle">5.8</text>
<text transform="translate(161.5 1584) scale(1 1.094)" font-size="69.8" text-anchor="end">0</text>
<text transform="translate(161.5 1070) scale(1 1.094)" font-size="69.8" text-anchor="end">2</text>
<text transform="translate(161.5 556) scale(1 1.094)" font-size="69.8" text-anchor="end">4</text>
<text transform="translate(889.5 92.6) scale(1 1.085)" font-size="84">b) LCC 400 nm</text>
<text transform="translate(859.1 1939.8) scale(1 1.10)" font-size="83.7">Photon energy (eV)</text>
<text transform="translate(90 1215.2) rotate(-90) scale(1 1.03)" font-size="89.5">Intensity (a. u.)</text>
<text transform="translate(281.7 404) scale(1 1.135)" font-size="61">T,</text>
<text transform="translate(354.4 383) scale(1 1.135)" font-size="61">o</text>
<text transform="translate(405.9 404) scale(1 1.135)" font-size="61">C</text>
<g fill="#00ff00"><rect x="310.8" y="458.2" width="24.5" height="25.5"/></g>
<text transform="translate(383.5 484.3) scale(1 1.135)" font-size="61">20</text>
<g fill="#ff0000"><ellipse cx="305" cy="552.4" rx="13" ry="13.6"/></g>
<text transform="translate(366.5 566.3) scale(1 1.135)" font-size="61">100</text>
<g fill="#0000ff"><path d="M304.5 616L320.4 644.5H288.6Z"/></g>
<text transform="translate(366.5 648.3) scale(1 1.135)" font-size="61">150</text>
<g fill="#ff00ff"><path d="M288.6 706.8H320.4L304.5 735.2Z"/></g>
<text transform="translate(366.5 730.5) scale(1 1.135)" font-size="61">200</text>
<g fill="#008000"><path d="M305.5 780L322.6 798.4L305.5 816.8L288.4 798.4Z"/></g>
<text transform="translate(366.5 812.2) scale(1 1.135)" font-size="61">250</text>
<g fill="#00ffff"><path d="M287.4 879.5L314.3 862.9V896.1Z"/></g>
<text transform="translate(366.5 894.2) scale(1 1.135)" font-size="61">300</text>
<g fill="#8000ff"><path d="M297.1 944.8L324.2 961.5L297.1 978.2Z"/></g>
<text transform="translate(366.5 976.2) scale(1 1.135)" font-size="61">350</text>
<g fill="#ff8000"><path d="M305 1026.9L318.3 1034.9V1052.1L305 1060.1L291.7 1052.1V1034.9Z"/></g>
<text transform="translate(366.5 1058) scale(1 1.135)" font-size="61">400</text>
</g>
</svg></body></html>
